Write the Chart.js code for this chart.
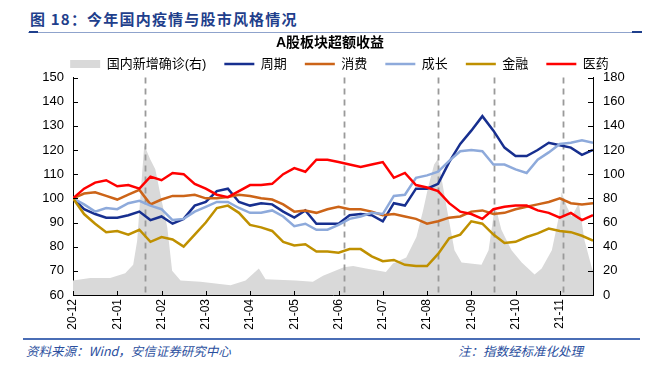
<!DOCTYPE html>
<html>
<head>
<meta charset="utf-8">
<script src="https://cdn.jsdelivr.net/npm/chart.js@4.4.0/dist/chart.umd.min.js"></script>
<style>
  body { margin: 0; width: 660px; height: 368px; background: #fff; position: relative; overflow: hidden; font-family: "Noto Sans CJK SC", sans-serif; }
  #hdr { position: absolute; left: 30px; top: 8px; font-size: 15px; font-weight: bold; color: #1f3f8c; letter-spacing: 1.2px; white-space: nowrap; }
  #hline { position: absolute; left: 28px; top: 32px; width: 612px; height: 1px; background: #8fa3cc; }
  .cap { position: absolute; top: 31px; height: 2px; background: #1f3f8c; }
  #wrap { position: absolute; left: 0; top: 34px; width: 660px; height: 304px; }
  #fline { position: absolute; left: 23px; top: 338px; width: 617px; height: 2px; background: #4a6db5; }
  .src { position: absolute; top: 341px; font-size: 12.5px; font-style: italic; color: #2b4f9e; white-space: nowrap; }
</style>
</head>
<body>
<div id="hdr">图 18：今年国内疫情与股市风格情况</div>
<div id="hline"></div>
<div class="cap" style="left:29px;width:9px"></div>
<div class="cap" style="left:632px;width:10px"></div>
<div id="wrap"><canvas id="styleChart"></canvas></div>
<div id="fline"></div>
<div class="src" style="left:26px">资料来源：Wind，安信证券研究中心</div>
<div class="src" style="left:458px">注：指数经标准化处理</div>

<script>
// nhãn tháng trên trục x
const monthLabels = ['20-12', '21-01', '21-02', '21-03', '21-04', '21-05', '21-06', '21-07', '21-08', '21-09', '21-10', '21-11'];

// chỉ số tuần (mỗi tháng 4 điểm)
const cycle   = [100, 95.5, 93.5, 92, 92, 93, 94.5, 91, 92.5, 89.5, 91.5, 97, 98.5, 103, 104, 98.5, 97, 98, 97.5, 94.5, 92, 95, 89.5, 89.5, 89.5, 93, 93.5, 93, 90.5, 98, 97, 104, 104, 106, 115, 122.5, 128, 134, 128, 121, 117.5, 117.5, 120, 123, 122, 121, 118, 120];
const consume = [100, 102, 102.5, 101, 99.5, 101.5, 103.5, 97.5, 99.5, 101, 101, 101.5, 100, 100, 100.5, 101.5, 101, 100, 99.5, 97.5, 94.5, 95, 94, 95.5, 96.5, 95.5, 95.5, 94.5, 93, 93.5, 92.5, 91.5, 89.5, 90.5, 92, 92.5, 94.5, 95, 93.5, 94, 95.5, 96.5, 97.5, 98.5, 100, 98, 97.5, 98];
const growth  = [100, 97.5, 94.5, 96, 95.5, 98, 99, 97, 95.5, 91, 91.5, 94.5, 96.5, 98.5, 98.5, 96, 94, 94, 95, 92.5, 88.5, 89.5, 87, 87, 89, 91.5, 92.5, 94, 93.5, 101, 101.5, 108.5, 109.5, 111, 115.5, 119.5, 120, 119.5, 114, 114, 112, 110.5, 116, 119, 122.5, 123, 124, 123];
const finance = [100, 93.5, 89.5, 86, 86.5, 85, 87, 82, 84, 83, 80, 85, 90, 96, 97, 94, 89, 88, 86.5, 82, 80.5, 81, 78, 78, 77.5, 79, 79, 76, 74, 74.5, 72.5, 72, 72, 77, 83.5, 85, 90.5, 89.5, 85, 81.5, 82, 84, 85.5, 87.5, 86.5, 86, 84.5, 82.5];
const pharma  = [100, 104, 106.5, 107.5, 105, 105.5, 104, 109, 107.5, 110.5, 110, 106, 104, 101.5, 100.5, 103, 105.5, 105.5, 106, 110, 112.5, 111, 116, 116, 115, 114, 113, 114, 115, 108.5, 110.5, 105.5, 104.5, 103, 98, 94.5, 93.5, 91.5, 95.5, 96.5, 97, 97, 95, 94, 92, 94, 91, 93];

// số ca nhiễm mới trong nước (trục phải), thời điểm tính theo tháng
const covidMonths = [0, 0.39, 0.84, 1.18, 1.36, 1.45, 1.52, 1.61, 1.75, 1.86, 1.97, 2.13, 2.24, 2.43, 2.88, 3.56, 3.9, 4.2, 4.35, 5.03, 5.42, 5.65, 6.12, 6.33, 6.62, 7.07, 7.23, 7.53, 7.76, 7.91, 8.03, 8.16, 8.25, 8.32, 8.48, 8.62, 8.78, 9.23, 9.39, 9.5, 9.57, 9.68, 9.91, 10.14, 10.43, 10.59, 10.82, 10.98, 11.04, 11.16, 11.27, 11.43, 11.56, 11.72, 11.75];
const covidCases  = [12, 14, 14, 18, 25, 45, 80, 124, 112, 104, 84, 56, 20, 12, 11, 8, 12, 22, 13, 12, 11, 16, 23, 24, 22, 19, 26, 31, 48, 70, 90, 108, 113, 98, 65, 37, 27, 25, 37, 65, 70, 54, 37, 27, 17, 22, 37, 65, 85, 73, 65, 76, 45, 23, 20];

// các mốc đường đứt nét
const eventMonths = [1.63, 6.12, 8.25, 9.51, 11.07];

const weekStep = 0.25;
const toPoints = (arr) => arr.map((v, i) => ({ x: i * weekStep, y: v }));

Chart.defaults.font.family = '"Liberation Sans", "Noto Sans CJK SC", sans-serif';
Chart.defaults.color = '#000';

function lineSet(label, data, color, order) {
    return {
        label: label,
        data: toPoints(data),
        borderColor: color,
        backgroundColor: color,
        borderWidth: 2.5,
        pointRadius: 0,
        pointStyle: 'line',
        tension: 0,
        yAxisID: 'y',
        order: order,
    };
}

// vẽ đường đứt nét và vạch chia hướng vào trong
const decor = {
    id: 'decor',
    afterLayout(chart) {
        chart.legend.left += 19;
    },
    afterDatasetDraw(chart, args) {
        if (args.index !== 0) return;
        const { ctx, chartArea, scales } = chart;
        ctx.save();
        ctx.strokeStyle = '#9a9a9a';
        ctx.lineWidth = 1.8;
        ctx.setLineDash([6, 5]);
        eventMonths.forEach((m) => {
            const x = Math.round(scales.x.getPixelForValue(m)) + 0.5;
            ctx.beginPath();
            ctx.moveTo(x, chartArea.top);
            ctx.lineTo(x, chartArea.bottom);
            ctx.stroke();
        });
        ctx.restore();
    },
    afterDraw(chart) {
        const { ctx, chartArea, scales } = chart;
        ctx.save();
        ctx.strokeStyle = '#000';
        ctx.lineWidth = 1;
        ctx.beginPath();
        scales.y.ticks.forEach((t) => {
            const y = Math.round(scales.y.getPixelForValue(t.value)) + 0.5;
            ctx.moveTo(chartArea.left, y);
            ctx.lineTo(chartArea.left + 5, y);
        });
        scales.y1.ticks.forEach((t) => {
            const y = Math.round(scales.y1.getPixelForValue(t.value)) + 0.5;
            ctx.moveTo(chartArea.right, y);
            ctx.lineTo(chartArea.right - 5, y);
        });
        scales.x.ticks.forEach((t) => {
            const x = Math.round(scales.x.getPixelForValue(t.value)) + 0.5;
            ctx.moveTo(x, chartArea.bottom);
            ctx.lineTo(x, chartArea.bottom - 4);
        });
        ctx.stroke();
        ctx.restore();
    },
};

const ctx = document.getElementById('styleChart').getContext('2d');
const styleChart = new Chart(ctx, {
    type: 'line',
    data: {
        datasets: [
            {
                label: '国内新增确诊(右)',
                data: covidMonths.map((m, i) => ({ x: m, y: covidCases[i] })),
                backgroundColor: '#d9d9d9',
                borderColor: '#d9d9d9',
                borderWidth: 0,
                pointRadius: 0,
                pointStyle: 'rect',
                fill: 'start',
                tension: 0,
                yAxisID: 'y1',
                order: 10,
            },
            lineSet('周期', cycle, '#172f8f', 5),
            lineSet('消费', consume, '#cc6418', 4),
            lineSet('成长', growth, '#8eaadb', 3),
            lineSet('金融', finance, '#bf9000', 2),
            lineSet('医药', pharma, '#ff0000', 1),
        ],
    },
    options: {
        responsive: true,
        maintainAspectRatio: false,
        animation: false,
        layout: { padding: 0 },
        plugins: {
            title: {
                display: true,
                text: 'A股板块超额收益',
                color: '#000',
                font: { size: 14, weight: 'bold' },
                padding: { top: 1, bottom: -12.3 },
            },
            legend: {
                maxHeight: 38,
                labels: {
                    usePointStyle: true,
                    pointStyleWidth: 30,
                    boxHeight: 8,
                    padding: 18,
                    color: '#000',
                    font: { size: 13 },
                    sort: (a, b) => a.datasetIndex - b.datasetIndex,
                },
            },
            tooltip: { enabled: false },
        },
        scales: {
            x: {
                type: 'linear',
                min: 0,
                max: 11.75,
                afterBuildTicks: (scale) => { scale.ticks = monthLabels.map((_, i) => ({ value: i })); },
                afterFit: (scale) => { scale.height = 43; },
                ticks: {
                    autoSkip: false,
                    minRotation: 90,
                    maxRotation: 90,
                    padding: 4,
                    font: { size: 12 },
                    callback: (v) => monthLabels[v],
                },
                grid: { drawOnChartArea: false, drawTicks: false },
                border: { display: true, color: '#000', width: 1 },
            },
            y: {
                position: 'left',
                min: 60,
                max: 150,
                afterFit: (scale) => { scale.width = 73; },
                ticks: { stepSize: 10, padding: 9, font: { size: 13 } },
                grid: { drawOnChartArea: false, drawTicks: false },
                border: { display: true, color: '#000', width: 1 },
            },
            y1: {
                position: 'right',
                min: 0,
                max: 180,
                afterFit: (scale) => { scale.width = 67; },
                ticks: { stepSize: 20, padding: 10, font: { size: 13 } },
                grid: { drawOnChartArea: false, drawTicks: false },
                border: { display: true, color: '#000', width: 1 },
            },
        },
    },
    plugins: [decor],
});
</script>
</body>
</html>
